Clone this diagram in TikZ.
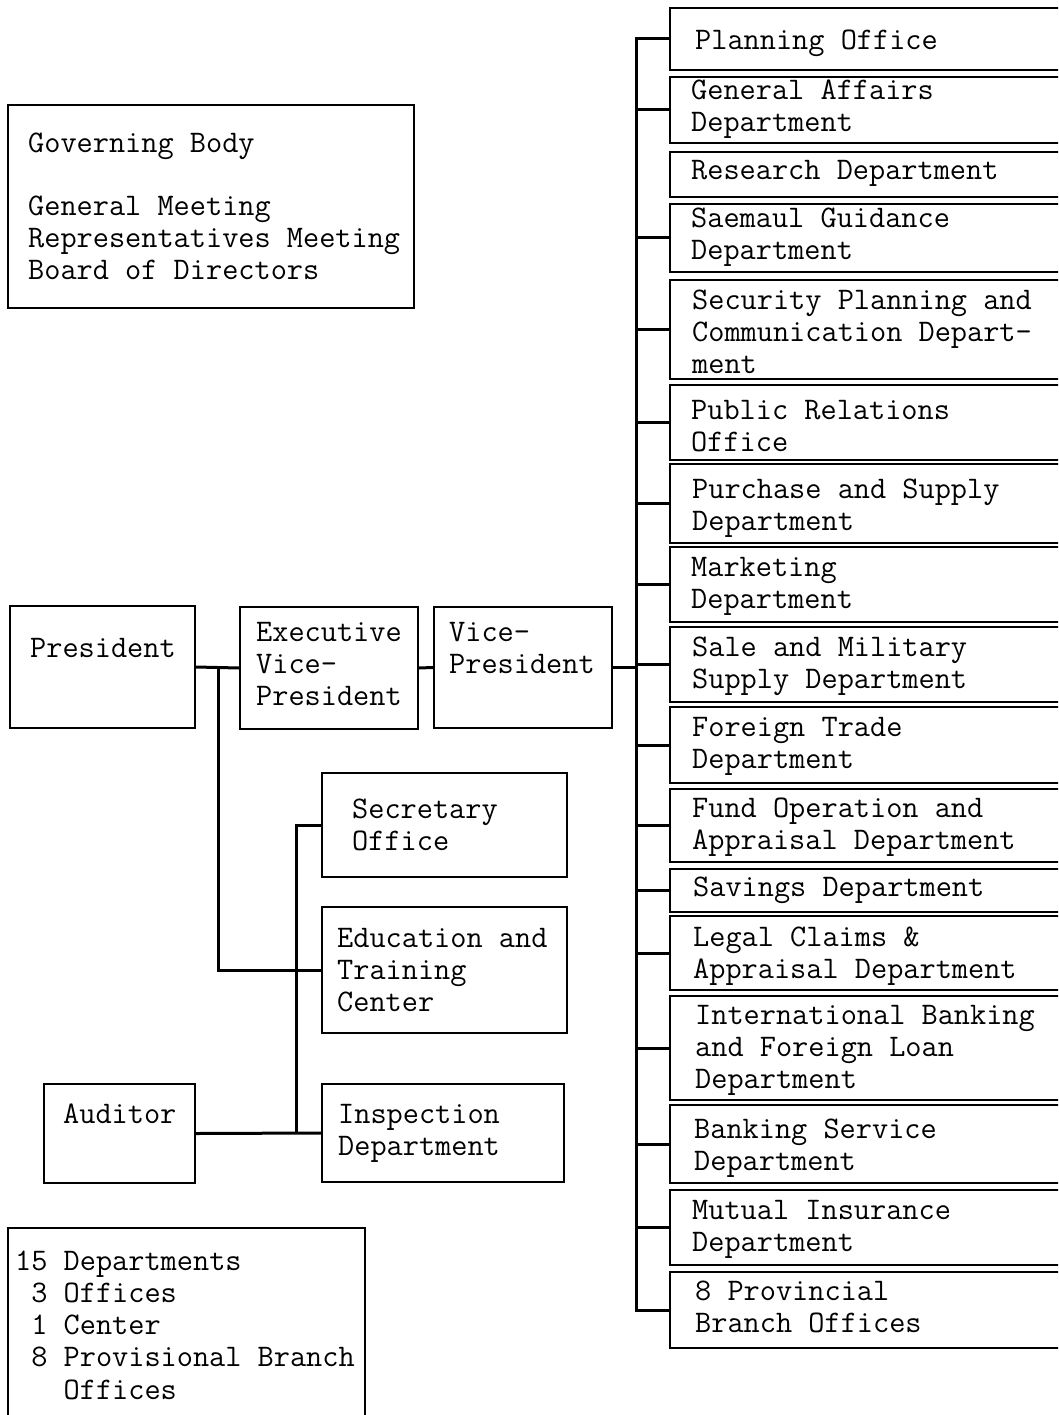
\documentclass[tikz,border=0pt]{standalone}
\newcommand\lns[1]{\begin{tabular}[t]{@{}l@{}}#1\end{tabular}}
\newcommand\Bx[6][bx]{\node[#1, minimum width={(#5-#3)*1pt}, minimum height={(#6-#4)*1pt}] (#2) at ({(#3+#5)/2},{(#4+#6)/2}) {};}
\begin{document}
\begin{tikzpicture}[x=1pt,y=-1pt,
  bx/.style={draw, line width=1.8pt, rectangle, inner sep=0pt},
  conn/.style={line width=3pt},
  txt/.style={anchor=base west, inner sep=0pt, font=\fontsize{31.4}{32}\ttfamily\selectfont}]
\useasboundingbox (0,0) rectangle (1058,1415);
\clip (0,0) rectangle (1058,1415);
\fill[white] (0,0) rectangle (1058,1415);

% governing body
\Bx{gov}{8}{105}{414}{308}
\node[txt] (govt) at (28,153) {Governing Body};
\node[txt] (govm) at (28,216) {\lns{General Meeting\\Representatives Meeting\\Board of Directors}};

% executive line
\Bx{pres}{10}{606}{195}{728}
\node[txt] at (30,657) {President};
\Bx{evp}{240}{607}{418}{729}
\node[txt] at (256,641) {\lns{Executive\\Vice-\\President}};
\Bx{vp}{434}{607}{612}{728}
\node[txt] at (449,641) {\lns{Vice-\\President}};

\Bx{sec}{322}{773}{567}{877}
\node[txt] at (352,818) {\lns{Secretary\\Office}};
\Bx{edu}{322}{907}{567}{1033}
\node[txt] at (337,947) {\lns{Education and\\Training\\Center}};
\Bx{insp}{322}{1084}{564}{1182}
\node[txt] at (338,1123) {\lns{Inspection\\Department}};
\Bx{aud}{44}{1084}{195}{1183}
\node[txt] at (63,1123) {Auditor};

\Bx{sum}{8}{1228}{365}{1440}
\node[txt, font=\fontsize{31.4}{32.3}\ttfamily\selectfont] at (15,1270) {\lns{15 Departments\\\phantom{1}3 Offices\\\phantom{1}1 Center\\\phantom{1}8 Provisional Branch\\\phantom{1}\phantom{8} Offices}};

% right column
\Bx{r1}{670}{8}{1080}{70}
\node[txt] at (695,50) {Planning Office};
\Bx{r2}{670}{77}{1080}{143}
\node[txt] at (691,100) {\lns{General Affairs\\Department}};
\Bx{r3}{670}{152}{1080}{197}
\node[txt] at (691,180) {Research Department};
\Bx{r4}{670}{204}{1080}{272}
\node[txt] at (691,228) {\lns{Saemaul Guidance\\Department}};
\Bx{r5}{670}{280}{1080}{379}
\node[txt] at (692,309) {\lns{Security Planning and\\Communication Depart-\\ment}};
\Bx{r6}{670}{385}{1080}{460}
\node[txt] at (691,419) {\lns{Public Relations\\Office}};
\Bx{r7}{670}{464}{1080}{543}
\node[txt] at (692,498) {\lns{Purchase and Supply\\Department}};
\Bx{r8}{670}{547}{1080}{622}
\node[txt] at (691,576) {\lns{Marketing\\Department}};
\Bx{r9}{670}{627}{1080}{702}
\node[txt] at (692,656) {\lns{Sale and Military\\Supply Department}};
\Bx{r10}{670}{707}{1080}{783}
\node[txt] at (692,736) {\lns{Foreign Trade\\Department}};
\Bx{r11}{670}{789}{1080}{862}
\node[txt] at (692,817) {\lns{Fund Operation and\\Appraisal Department}};
\Bx{r12}{670}{869}{1080}{912}
\node[txt] at (693,896) {Savings Department};
\Bx{r13}{670}{916}{1080}{990}
\node[txt] at (693,946) {\lns{Legal Claims \&\\Appraisal Department}};
\Bx{r14}{670}{996}{1080}{1100}
\node[txt] at (695,1024) {\lns{International Banking\\and Foreign Loan\\Department}};
\Bx{r15}{670}{1105}{1080}{1183}
\node[txt] at (694,1138) {\lns{Banking Service\\Department}};
\Bx{r16}{670}{1190}{1080}{1265}
\node[txt] at (692,1219) {\lns{Mutual Insurance\\Department}};
\Bx{r17}{670}{1272}{1080}{1348}
\node[txt] at (695,1300) {\lns{8 Provincial\\Branch Offices}};

% connectors
\coordinate (bus) at (636,0);
\coordinate (pj) at (218,668);
\coordinate (sj) at (296,0);
\draw[conn] (pres.east) -- (evp.west);
\draw[conn] (evp.east) -- (vp.west);
\draw[conn] (vp.east) -- (vp.east -| bus);
\draw[conn] (pj) |- (edu.west);
\draw[conn] (sec.west) -- (sec.west -| sj) -- (insp.west -| sj);
\draw[conn] (aud.east) -- (insp.west);
\draw[conn, line cap=rect] (r1.west -| bus) -- (r17.west -| bus);
\foreach \r in {r1,r2,r4,r5,r6,r7,r8,r9,r10,r11,r12,r13,r14,r15,r16,r17}
  \draw[conn] (\r.west -| bus) -- (\r.west);
\end{tikzpicture}
\end{document}
